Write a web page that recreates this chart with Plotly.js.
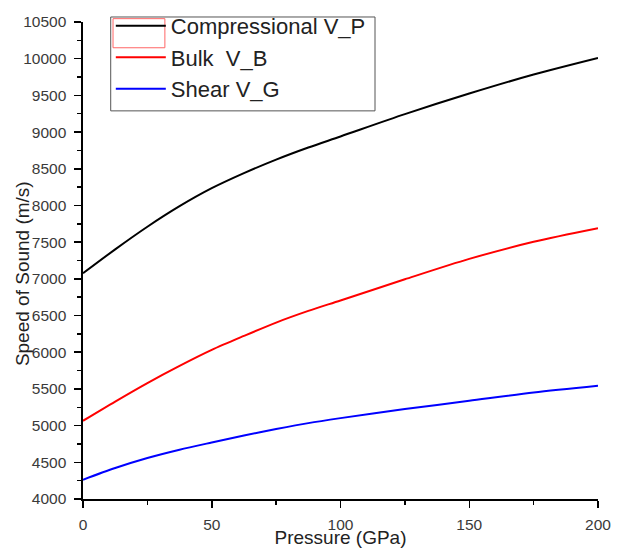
<!DOCTYPE html>
<html>
<head>
<meta charset="utf-8">
<script src="https://cdn.plot.ly/plotly-3.0.1.min.js"></script>
<style>
  html, body { margin: 0; padding: 0; background: #ffffff; }
  #chart { width: 620px; height: 548px; }
</style>
</head>
<body>
<div id="chart"></div>
<script>
// Sound velocities versus pressure
const pressure = [0, 12.5, 25, 37.5, 50, 62.5, 75, 87.5, 100, 125, 150, 175, 200];
const vCompressional = [7076, 7402, 7710, 7990, 8235, 8440, 8625, 8790, 8940, 9244, 9525, 9784, 10010];
const vBulk = [5066, 5328, 5580, 5814, 6032, 6222, 6404, 6563, 6705, 6994, 7272, 7505, 7690];
const vShear = [4263, 4422, 4558, 4671, 4770, 4866, 4953, 5034, 5102, 5225, 5338, 5451, 5542];

const seriesNames = ['Compressional V_P', 'Bulk  V_B', 'Shear V_G'];
const seriesColors = ['#000000', '#ff0000', '#0000ff'];
const seriesValues = [vCompressional, vBulk, vShear];

const FONT = 'Liberation Sans, Arial, Helvetica, sans-serif';

const traces = seriesValues.map((vals, i) => ({
  x: pressure,
  y: vals,
  type: 'scatter',
  mode: 'lines',
  name: seriesNames[i],
  line: { color: seriesColors[i], width: 2, shape: 'spline', smoothing: 0.8 }
}));

const axisCommon = {
  showline: true,
  linecolor: '#000000',
  linewidth: 1.6,
  ticks: 'outside',
  ticklen: 7,
  tickwidth: 1.5,
  tickcolor: '#000000',
  showgrid: false,
  zeroline: false,
  mirror: false,
  tickformat: 'd',
  tickfont: { family: FONT, size: 15.5, color: '#3a3a3a' }
};

const layout = {
  width: 620,
  height: 548,
  // fixed margins: the legend sits partly above the plot area without resizing it
  margin: { l: 83, r: 22, t: 22, b: 49, autoexpand: false },
  paper_bgcolor: '#ffffff',
  plot_bgcolor: '#ffffff',
  font: { family: FONT, color: '#222222' },
  xaxis: Object.assign({}, axisCommon, {
    range: [0, 200],
    dtick: 50,
    tick0: 0,
    ticklabelstandoff: 4,
    minor: { ticks: 'outside', ticklen: 4, tickwidth: 1.5, tickcolor: '#000000', dtick: 25, showgrid: false },
    title: { text: 'Pressure (GPa)', font: { family: FONT, size: 19, color: '#222222' }, standoff: 0 }
  }),
  yaxis: Object.assign({}, axisCommon, {
    range: [4000, 10500],
    dtick: 500,
    tick0: 4000,
    ticklabelstandoff: 5,
    minor: { ticks: 'outside', ticklen: 4, tickwidth: 1.5, tickcolor: '#000000', dtick: 250, showgrid: false }
  }),
  annotations: [
    {
      text: 'Speed of Sound (m/s)',
      xref: 'paper', yref: 'paper',
      x: -0.117, y: 0.473,
      xanchor: 'center', yanchor: 'middle',
      textangle: -90,
      showarrow: false,
      font: { family: FONT, size: 19, color: '#222222' }
    }
  ],
  showlegend: true,
  legend: {
    x: 0.054,
    y: 1.036,
    xanchor: 'left',
    yanchor: 'top',
    bgcolor: 'rgba(0,0,0,0)',
    borderwidth: 0,
    itemwidth: 50,
    font: { family: FONT, size: 22, color: '#222222' }
  },
  shapes: [
    // legend frame
    {
      type: 'rect', xref: 'paper', yref: 'paper',
      x0: 0.0538, x1: 0.567, y0: 0.8137, y1: 1.0105,
      line: { color: '#555555', width: 1 },
      fillcolor: 'rgba(0,0,0,0)'
    },
    // outline around the first legend key
    {
      type: 'rect', xref: 'paper', yref: 'paper',
      x0: 0.0583, x1: 0.1590, y0: 0.946, y1: 1.007,
      line: { color: '#ff6666', width: 1 },
      fillcolor: 'rgba(0,0,0,0)'
    }
  ]
};

Plotly.newPlot('chart', traces, layout, { staticPlot: true, displayModeBar: false });
</script>
</body>
</html>
